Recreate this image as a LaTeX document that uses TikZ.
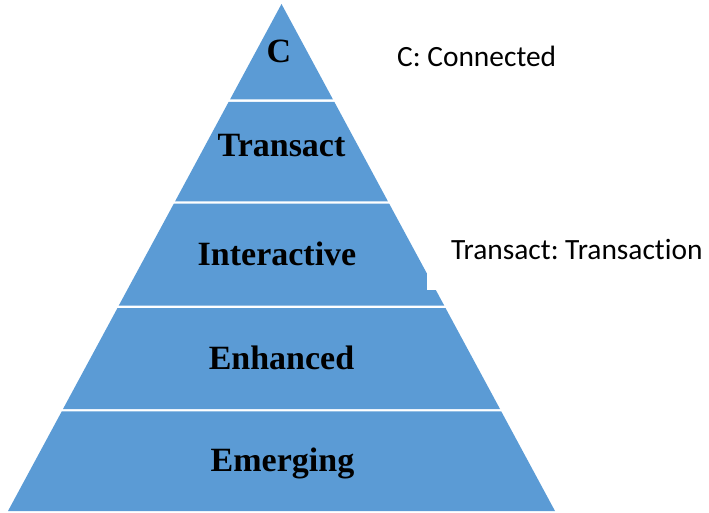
\documentclass[tikz,border=0pt]{standalone}
\usepackage{fontspec}
\setmainfont{Liberation Serif}
\newfontfamily\legendfont[Ligatures=NoCommon]{Carlito}
\usepackage{tikz}
\usepackage{xcolor}
\definecolor{layerblue}{HTML}{5B9BD5}
\frenchspacing
\tikzset{
  layer/.style={fill=layerblue},
  lbl/.style={font=\bfseries\fontsize{34}{40}\selectfont,anchor=base,inner sep=0pt},
  legend/.style={font=\legendfont\fontsize{29.4}{34}\selectfont,anchor=base west,inner sep=0pt}
}

\begin{document}
\begin{tikzpicture}[x=1pt,y=-1pt]
\useasboundingbox (0,0) rectangle (709,513);
% pyramid layers
\fill[layer] (281.5,4) -- (333.0,99.5) -- (230.0,99.5) -- cycle;
\fill[layer] (228.7,101.8) -- (334.3,101.8) -- (387.9,201.3) -- (175.1,201.3) -- cycle;
\fill[layer] (173.8,203.7) -- (389.2,203.7) -- (444.3,305.7) -- (118.7,305.7) -- cycle;
\fill[layer] (117.5,308) -- (445.5,308) -- (500.0,409) -- (63.0,409) -- cycle;
\fill[layer] (61.8,411.3) -- (501.2,411.3) -- (555,511) -- (8,511) -- cycle;
\fill[white] (427,268) rectangle (452,290);
% labels
\node[lbl] (c) at (279,63) {C};
\node[lbl] (transact) at (281.5,157) {Transact};
\node[lbl] (interactive) at (277,265) {Interactive};
\node[lbl] (enhanced) at (281.5,369) {Enhanced};
\node[lbl] (emerging) at (282.5,471) {Emerging};
% legend
\node[legend] (legc) at (397,67) {C: Connected};
\node[legend] (legt) at (451,259) {Transact: Transaction};
\end{tikzpicture}
\end{document}
